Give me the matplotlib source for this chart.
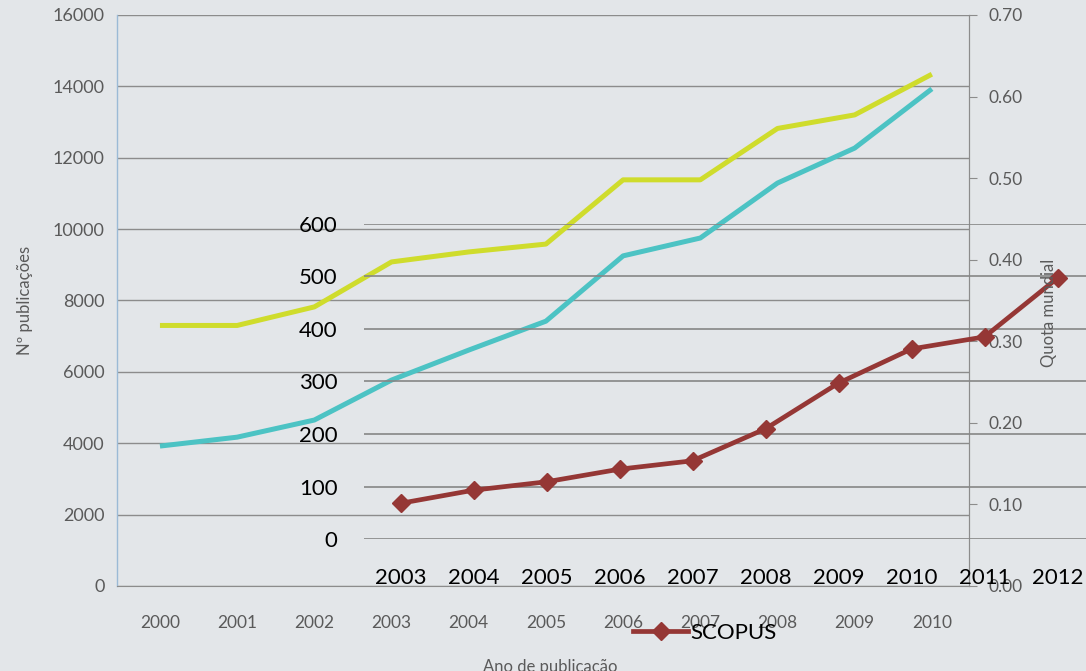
import matplotlib
matplotlib.use("Agg")
import matplotlib.pyplot as plt

# background chart (scanned figure)
bg_years = ["2000", "2001", "2002", "2003", "2004", "2005", "2006", "2007", "2008", "2009", "2010"]
yellow_pubs = [7300, 7300, 7820, 9080, 9360, 9580, 11380, 11380, 12820, 13200, 14340]
cyan_pubs = [3920, 4170, 4650, 5770, 6610, 7420, 9250, 9750, 11290, 12270, 13930]
left_ticks = [0, 2000, 4000, 6000, 8000, 10000, 12000, 14000, 16000]
right_ticks = [0.0, 0.1, 0.2, 0.3, 0.4, 0.5, 0.6, 0.7]

# overlaid chart
scopus_years = ["2003", "2004", "2005", "2006", "2007", "2008", "2009", "2010", "2011", "2012"]
scopus = [68, 93, 109, 133, 149, 210, 297, 362, 385, 497]
scopus_ticks = [0, 100, 200, 300, 400, 500, 600]

bg_color = "#e3e6e9"
grey_txt = "#5a5a5a"

fig = plt.figure(figsize=(10.86, 6.71), dpi=100)
fig.patch.set_facecolor(bg_color)

# --- background axes ---
ax = fig.add_axes([0.1077, 0.1267, 0.7845, 0.8510])
ax.set_facecolor(bg_color)
x = range(len(bg_years))
ax.plot(x, yellow_pubs, color="#cfdc2c", lw=3.6, solid_capstyle="butt", zorder=3)
ax.plot(x, cyan_pubs, color="#4cc3c4", lw=3.6, solid_capstyle="butt", zorder=3)
ax.set_xlim(-0.557, 10.48)
ax.set_ylim(0, 16000)
ax.set_yticks(left_ticks)
ax.set_yticklabels([str(v) for v in left_ticks], fontsize=13, color=grey_txt, family="Lato")
ax.set_xticks(list(x))
ax.set_xticklabels(bg_years, fontsize=12.5, color=grey_txt, family="Lato")
ax.tick_params(axis="y", length=0, pad=9)
ax.tick_params(axis="x", length=0, pad=21)
ax.grid(axis="y", color="#8c8c8c", lw=1.0)
ax.set_axisbelow(True)
ax.spines["top"].set_visible(False)
ax.spines["left"].set_color("#9bbad6")
ax.spines["left"].set_linewidth(1.0)
ax.spines["bottom"].set_color("#8c8c8c")
ax.spines["right"].set_color("#8c8c8c")
ax.set_ylabel("Nº publicações", fontsize=12, color=grey_txt, family="Lato", labelpad=14)

ax2 = ax.twinx()
ax2.set_ylim(0, 0.70)
ax2.set_yticks(right_ticks)
ax2.set_yticklabels(["%.2f" % v for v in right_ticks], fontsize=12.5, color=grey_txt, family="Lato")
ax2.tick_params(axis="y", length=6, color="#8c8c8c", pad=8)
for s in ["top", "left", "bottom"]:
    ax2.spines[s].set_visible(False)
ax2.spines["right"].set_color("#8c8c8c")
fig.text(1049 / 1086, 1 - 313 / 671, "Quota mundial", rotation=90, ha="center", va="center",
         fontsize=12, color=grey_txt, family="Lato")
fig.text(550 / 1086, 1 - 667 / 671, "Ano de publicação", ha="center", va="center",
         fontsize=12, color=grey_txt, family="Lato")

# --- overlaid SCOPUS chart ---
fx = fig.add_axes([0.3352, 0.1967, 0.6722, 0.4695])
fx.patch.set_alpha(0)
xs = range(len(scopus_years))
fx.plot(xs, scopus, color="#953735", lw=3.4, marker="D", markersize=9.5, label="SCOPUS", zorder=4)
fx.set_xlim(-0.5, 9.5)
fx.set_ylim(0, 600)
fx.set_yticks(scopus_ticks)
fx.set_yticklabels([str(v) for v in scopus_ticks], fontsize=16, color="black", family="Lato")
fx.set_xticks(list(xs))
fx.set_xticklabels(scopus_years, fontsize=16, color="black", family="Lato")
fx.tick_params(axis="y", length=0, pad=19)
fx.tick_params(axis="x", length=0, pad=21)
fx.grid(axis="y", color="#868686", lw=1.2)
for s in fx.spines.values():
    s.set_visible(False)
fig.legend(handles=fx.get_lines(), loc="center", bbox_to_anchor=(0.649, 0.0566), frameon=False,
           prop={"family": "Lato", "size": 16}, handlelength=2.5, handletextpad=0.1)

fig.savefig("out.png", dpi=100, facecolor=bg_color)
